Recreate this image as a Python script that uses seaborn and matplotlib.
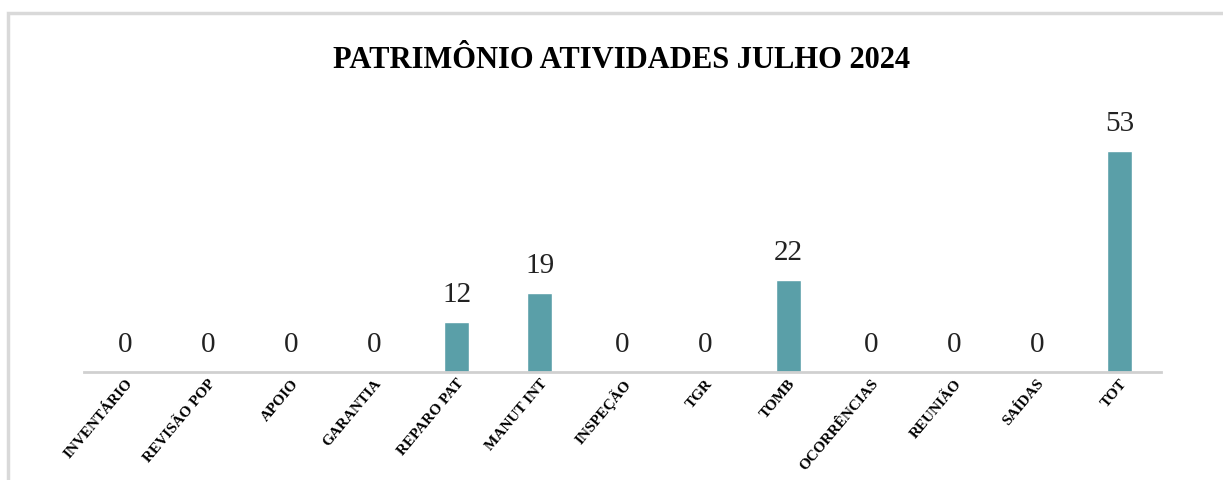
#!/usr/bin/env python3
# Bar chart: Patrimônio atividades julho 2024

import pandas as pd
import matplotlib.pyplot as plt
import matplotlib.transforms as mtransforms
import seaborn as sns
from matplotlib.patches import Rectangle

# data
categories = ["INVENTÁRIO", "REVISÃO POP", "APOIO", "GARANTIA", "REPARO PAT",
              "MANUT INT", "INSPEÇÃO", "TGR", "TOMB", "OCORRÊNCIAS",
              "REUNIÃO", "SAÍDAS", "TOT"]
values = [0, 0, 0, 0, 12, 19, 0, 0, 22, 0, 0, 0, 53]
title = "PATRIMÔNIO ATIVIDADES JULHO 2024"

df = pd.DataFrame({"category": categories, "value": values})

sns.set_theme(style="white")
plt.rcParams['font.family'] = ['Liberation Serif', 'DejaVu Serif']

bar_color = '#5A9FA8'

fig = plt.figure(figsize=(12.23, 4.81), dpi=100)
ax = fig.add_axes([0.0687, 0.2245, 0.8806, 0.545])

sns.barplot(data=df, x="category", y="value", color=bar_color,
            width=0.3, saturation=1, ax=ax)

ax.set_ylim(0, 63)
ax.set_xlim(-0.5, len(categories) - 0.5)

# value labels
for i, v in enumerate(values):
    ax.annotate(f'{v}', (i, v), xytext=(0, 11), textcoords='offset points',
                ha='center', va='bottom', fontsize=21, color='#222222')

ax.set_xlabel("")
ax.set_ylabel("")
ax.set_yticks([])
for s in ['top', 'right', 'left']:
    ax.spines[s].set_visible(False)
ax.spines['bottom'].set_color('#d0d0d0')
ax.spines['bottom'].set_linewidth(2)
ax.tick_params(axis='x', length=0, pad=6)
shift = mtransforms.ScaledTranslation(5 / 100, 0, fig.dpi_scale_trans)
for lab in ax.get_xticklabels():
    lab.set_rotation(50)
    lab.set_ha('right')
    lab.set_va('center')
    lab.set_rotation_mode('anchor')
    lab.set_fontsize(11)
    lab.set_fontweight('bold')
    lab.set_color('black')
    lab.set_transform(lab.get_transform() + shift)

fig.text(0.508, 0.875, title, ha='center', va='center',
         fontsize=22, fontweight='bold', color='black')

# outer frame
fig.patches.append(Rectangle((8 / 1223, -0.05), 1.2, 1 - 14 / 481 + 0.05,
                             transform=fig.transFigure, fill=False,
                             edgecolor='#d9d9d9', linewidth=2.5))

plt.savefig("out.png", dpi=100)
plt.close()
